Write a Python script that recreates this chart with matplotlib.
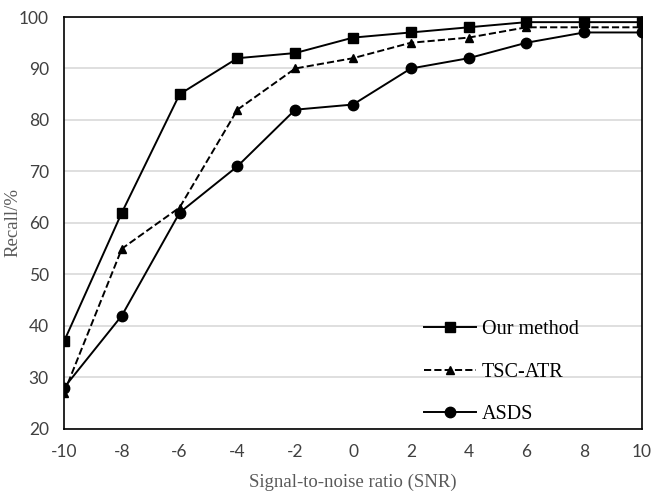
import numpy as np
import matplotlib.pyplot as plt

plt.rcParams['axes.unicode_minus'] = False

snr = [-10, -8, -6, -4, -2, 0, 2, 4, 6, 8, 10]
our_method = [37, 62, 85, 92, 93, 96, 97, 98, 99, 99, 99]
tsc_atr = [27, 55, 63, 82, 90, 92, 95, 96, 98, 98, 98]
asds = [28, 42, 62, 71, 82, 83, 90, 92, 95, 97, 97]

fig = plt.figure(figsize=(6.67, 4.93), dpi=100)
ax = fig.add_axes([0.096, 0.13, 0.8665, 0.8355])

ax.plot(snr, our_method, '-', color='black', lw=1.4, marker='s', ms=7.5, label='Our method')
ax.plot(snr, tsc_atr, '--', color='black', lw=1.4, marker='^', ms=5.5, label='TSC-ATR')
ax.plot(snr, asds, '-', color='black', lw=1.4, marker='o', ms=7.5, label='ASDS')

ax.set_xlim(-10, 10)
ax.set_ylim(20, 100)
ax.set_xticks(snr)
ax.set_yticks(np.arange(20, 101, 10))
ax.grid(axis='y', color='#d9d9d9', lw=1.2)
ax.set_axisbelow(True)
for s in ax.spines.values():
    s.set_color('black')
    s.set_linewidth(1.2)
ax.tick_params(length=0, labelsize=12.5, labelcolor='#404040')
ax.tick_params(axis='x', pad=11)
ax.tick_params(axis='y', pad=11)
for lab in ax.get_xticklabels() + ax.get_yticklabels():
    lab.set_family('Lato')

ax.set_xlabel('Signal-to-noise ratio (SNR)', family='Liberation Serif', fontsize=13.5, color='#595959', labelpad=10)
ax.set_ylabel('Recall/%', family='Liberation Serif', fontsize=13.5, color='#595959')
ax.yaxis.set_label_coords(-0.073, 0.5)

ax.legend(loc='lower right', bbox_to_anchor=(0.922, -0.032), frameon=False, handlelength=2.6,
          handletextpad=0.3, labelspacing=1.15, prop={'family': 'Liberation Serif', 'size': 14.5})

fig.savefig('out.png', dpi=100)
